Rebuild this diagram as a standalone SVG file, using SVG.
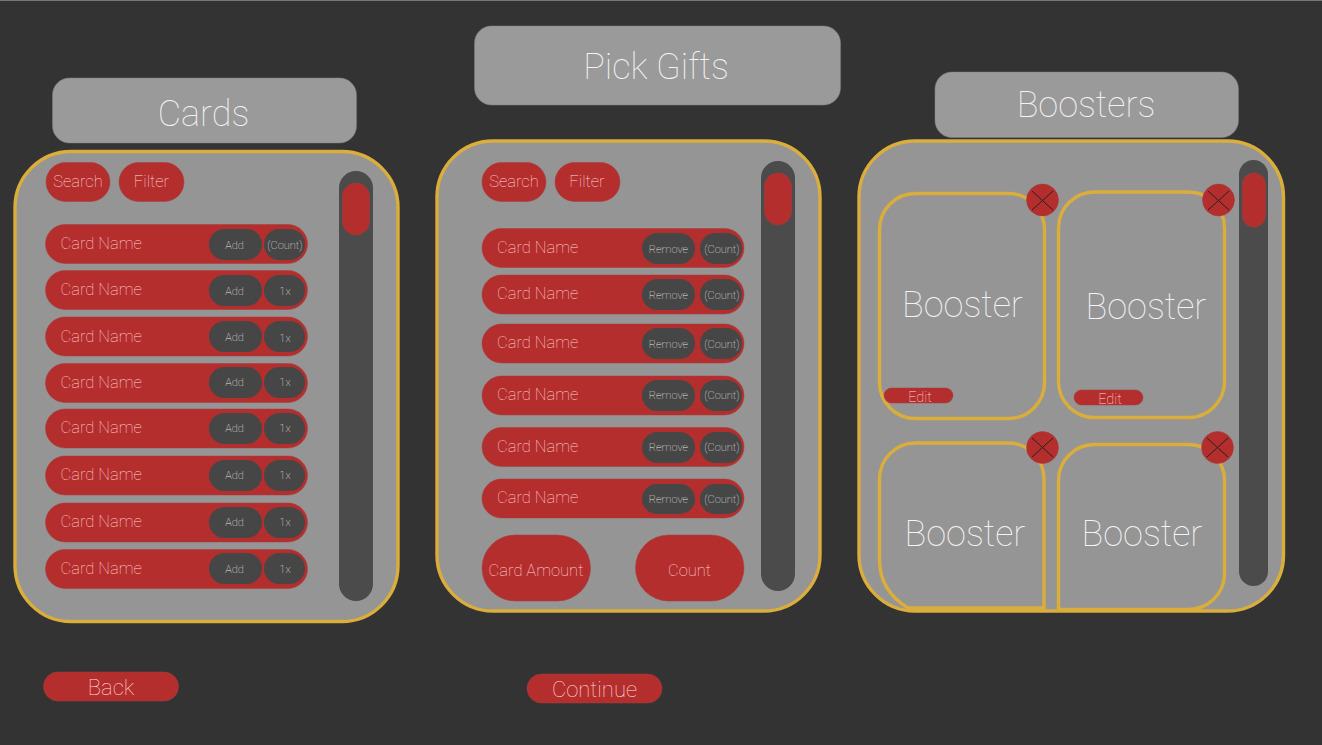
<svg xmlns="http://www.w3.org/2000/svg" width="1322" height="745" viewBox="0 0 1322 745">
<style>
text{font-family:Roboto,"Liberation Sans",sans-serif;text-anchor:middle}
.title{fill:#f4f4f4;font-weight:100;font-size:36px}
.boost{fill:#f4f4f4;font-weight:100;font-size:36px}
.panel{fill:#959595;stroke:#dbad3b;stroke-width:3.4}
.slot{fill:none;stroke:#dbad3b;stroke-width:3.4}
.head{fill:#9a9a9a;stroke:#808080;stroke-width:.5}
.red{fill:#b42e2e;stroke:#a63c3c;stroke-width:.5}
.dark{fill:#464646}
.track{fill:#4b4b4b}
.name{fill:#ffd0d0;font-weight:100;font-size:16.5px;text-anchor:start}
.btn{fill:#ffd8d8;font-weight:100;font-size:16.5px}
.small{fill:#e6e6e6;font-weight:100;font-size:11px}
.x{stroke:#222;stroke-width:1}
</style>
<rect width="1322" height="745" fill="#333"/>
<rect width="1322" height="1" fill="#777"/>

<g id="cards-title"><rect class="head" x="52.500" y="78" width="304" height="65" rx="17"/><text class="title" x="203.500" y="126">Cards</text></g>
<g id="cards-panel"><rect class="panel" x="15" y="151.500" width="383" height="470" rx="56"/>
<rect class="track" x="339" y="171" width="34" height="430" rx="17"/><rect class="red" x="342.500" y="183" width="27" height="52" rx="13.500" stroke="none"/></g>
<g id="cards-search"><rect class="red" x="46" y="162.500" width="64" height="39" rx="19.500"/><text class="btn" x="78" y="187">Search</text></g>
<g id="cards-filter"><rect class="red" x="119" y="162.500" width="65" height="39" rx="19.500"/><text class="btn" x="151.500" y="187">Filter</text></g>
<g id="cards-row-1"><rect class="red" x="45.500" y="224.500" width="262" height="39" rx="19.500"/><text class="name" x="60.500" y="249">Card Name</text><rect class="dark" x="209" y="229" width="53" height="31" rx="15.500"/><text class="small" x="234.500" y="249">Add</text><rect class="dark" x="264" y="229" width="41" height="31" rx="15.500"/><text class="small" x="285" y="249">(Count)</text></g>
<g id="cards-row-2"><rect class="red" x="45.500" y="270.500" width="262" height="39" rx="19.500"/><text class="name" x="60.500" y="295">Card Name</text><rect class="dark" x="209" y="275" width="53" height="31" rx="15.500"/><text class="small" x="234.500" y="295">Add</text><rect class="dark" x="264" y="275" width="41" height="31" rx="15.500"/><text class="small" x="285" y="295">1x</text></g>
<g id="cards-row-3"><rect class="red" x="45.500" y="317" width="262" height="39" rx="19.500"/><text class="name" x="60.500" y="342">Card Name</text><rect class="dark" x="209" y="321" width="53" height="31" rx="15.500"/><text class="small" x="234.500" y="341">Add</text><rect class="dark" x="264" y="321" width="41" height="31" rx="15.500"/><text class="small" x="285" y="342">1x</text></g>
<g id="cards-row-4"><rect class="red" x="45.500" y="363.500" width="262" height="39" rx="19.500"/><text class="name" x="60.500" y="388">Card Name</text><rect class="dark" x="209" y="367" width="53" height="31" rx="15.500"/><text class="small" x="234.500" y="386">Add</text><rect class="dark" x="264" y="367" width="41" height="31" rx="15.500"/><text class="small" x="285" y="386">1x</text></g>
<g id="cards-row-5"><rect class="red" x="45.500" y="409" width="262" height="39" rx="19.500"/><text class="name" x="60.500" y="433">Card Name</text><rect class="dark" x="209" y="413" width="53" height="31" rx="15.500"/><text class="small" x="234.500" y="432">Add</text><rect class="dark" x="264" y="413" width="41" height="31" rx="15.500"/><text class="small" x="285" y="432">1x</text></g>
<g id="cards-row-6"><rect class="red" x="45.500" y="456" width="262" height="39" rx="19.500"/><text class="name" x="60.500" y="480">Card Name</text><rect class="dark" x="209" y="460" width="53" height="31" rx="15.500"/><text class="small" x="234.500" y="479">Add</text><rect class="dark" x="264" y="460" width="41" height="31" rx="15.500"/><text class="small" x="285" y="479">1x</text></g>
<g id="cards-row-7"><rect class="red" x="45.500" y="503" width="262" height="39" rx="19.500"/><text class="name" x="60.500" y="527">Card Name</text><rect class="dark" x="209" y="507" width="53" height="31" rx="15.500"/><text class="small" x="234.500" y="526">Add</text><rect class="dark" x="264" y="507" width="41" height="31" rx="15.500"/><text class="small" x="285" y="526">1x</text></g>
<g id="cards-row-8"><rect class="red" x="45.500" y="549.500" width="262" height="39" rx="19.500"/><text class="name" x="60.500" y="574">Card Name</text><rect class="dark" x="209" y="553" width="53" height="31" rx="15.500"/><text class="small" x="234.500" y="573">Add</text><rect class="dark" x="264" y="553" width="41" height="31" rx="15.500"/><text class="small" x="285" y="573">1x</text></g>
<g id="back"><rect class="red" x="43.500" y="672" width="135" height="29" rx="14.500"/><text class="btn" x="111" y="695" style="font-size:22px">Back</text></g>

<g id="gifts-title"><rect class="head" x="474.500" y="26" width="366" height="79" rx="17"/><text class="title" x="656" y="79">Pick Gifts</text></g>
<g id="gifts-panel"><rect class="panel" x="437" y="141" width="383" height="470" rx="56"/>
<rect class="track" x="761" y="161" width="34" height="430" rx="17"/><rect class="red" x="764.500" y="173" width="27" height="52" rx="13.500" stroke="none"/></g>
<g id="gifts-search"><rect class="red" x="482" y="162.500" width="64" height="39" rx="19.500"/><text class="btn" x="514" y="187">Search</text></g>
<g id="gifts-filter"><rect class="red" x="555" y="162.500" width="65" height="39" rx="19.500"/><text class="btn" x="587" y="187">Filter</text></g>
<g id="gifts-row-1"><rect class="red" x="482" y="228.500" width="262" height="39" rx="19.500"/><text class="name" x="497" y="253">Card Name</text><rect class="dark" x="642" y="233" width="53" height="31" rx="15.500"/><text class="small" x="668.500" y="253">Remove</text><rect class="dark" x="700" y="233" width="42" height="31" rx="15.500"/><text class="small" x="722" y="253">(Count)</text></g>
<g id="gifts-row-2"><rect class="red" x="482" y="275" width="262" height="39" rx="19.500"/><text class="name" x="497" y="299">Card Name</text><rect class="dark" x="642" y="279" width="53" height="31" rx="15.500"/><text class="small" x="668.500" y="299">Remove</text><rect class="dark" x="700" y="279" width="42" height="31" rx="15.500"/><text class="small" x="722" y="299">(Count)</text></g>
<g id="gifts-row-3"><rect class="red" x="482" y="324" width="262" height="39" rx="19.500"/><text class="name" x="497" y="348">Card Name</text><rect class="dark" x="642" y="328" width="53" height="31" rx="15.500"/><text class="small" x="668.500" y="348">Remove</text><rect class="dark" x="700" y="328" width="42" height="31" rx="15.500"/><text class="small" x="722" y="348">(Count)</text></g>
<g id="gifts-row-4"><rect class="red" x="482" y="376" width="262" height="39" rx="19.500"/><text class="name" x="497" y="400">Card Name</text><rect class="dark" x="642" y="380" width="53" height="31" rx="15.500"/><text class="small" x="668.500" y="399">Remove</text><rect class="dark" x="700" y="380" width="42" height="31" rx="15.500"/><text class="small" x="722" y="399">(Count)</text></g>
<g id="gifts-row-5"><rect class="red" x="482" y="427.500" width="262" height="39" rx="19.500"/><text class="name" x="497" y="451.500">Card Name</text><rect class="dark" x="642" y="432" width="53" height="31" rx="15.500"/><text class="small" x="668.500" y="451">Remove</text><rect class="dark" x="700" y="432" width="42" height="31" rx="15.500"/><text class="small" x="722" y="451">(Count)</text></g>
<g id="gifts-row-6"><rect class="red" x="482" y="479" width="262" height="39" rx="19.500"/><text class="name" x="497" y="503">Card Name</text><rect class="dark" x="642" y="484" width="53" height="30" rx="15"/><text class="small" x="668.500" y="503">Remove</text><rect class="dark" x="700" y="484" width="42" height="30" rx="15"/><text class="small" x="722" y="503">(Count)</text></g>
<g id="card-amount"><rect class="red" x="482" y="535" width="108.500" height="66" rx="33"/><text class="btn" x="536" y="575.500">Card Amount</text></g>
<g id="count"><rect class="red" x="635.500" y="535" width="108.500" height="66" rx="33"/><text class="btn" x="689.500" y="575.500">Count</text></g>
<g id="continue"><rect class="red" x="527" y="674" width="135" height="29" rx="14.500"/><text class="btn" x="594.500" y="697" style="font-size:22px">Continue</text></g>

<g id="boosters-title"><rect class="head" x="935" y="72" width="303.500" height="65.500" rx="17"/><text class="title" x="1086" y="117">Boosters</text></g>
<g id="boosters-panel"><rect class="panel" x="859" y="141" width="424.500" height="470" rx="56"/>
<rect class="track" x="1239" y="160" width="29" height="426" rx="14.500"/><rect class="red" x="1242.500" y="173" width="23" height="54" rx="11.500" stroke="none"/></g>
<g id="booster-1"><rect class="slot" x="879.500" y="193.500" width="165" height="225" rx="36"/><text class="boost" x="962.500" y="317">Booster</text><rect class="red" x="884" y="388" width="69" height="15" rx="7.500" stroke="none"/><text class="btn" x="920" y="402" style="font-size:14.500px">Edit</text><circle class="red" cx="1042.500" cy="200" r="16" stroke="none"/><path class="x" d="M1032 191L1053 210M1053 191L1032 210"/></g>
<g id="booster-2"><rect class="slot" x="1058.500" y="192" width="166" height="225.500" rx="36"/><text class="boost" x="1146" y="319">Booster</text><rect class="red" x="1074" y="390" width="69" height="15" rx="7.500" stroke="none"/><text class="btn" x="1110" y="404" style="font-size:14.500px">Edit</text><circle class="red" cx="1218.500" cy="200" r="16" stroke="none"/><path class="x" d="M1208 191L1229 210M1229 191L1208 210"/></g>
<g id="booster-3"><path class="slot" d="M1044 608V479A36 36 0 0 0 1008 443H916A36 36 0 0 0 879.500 479V560C879.500 585 895 600 908 608Z"/><text class="boost" x="965" y="546">Booster</text><circle class="red" cx="1042.500" cy="447.500" r="16" stroke="none"/><path class="x" d="M1032 438L1053 457M1053 438L1032 457"/></g>
<g id="booster-4"><path class="slot" d="M1058.500 609.500V481A36 36 0 0 1 1094.500 444.500H1188A36 36 0 0 1 1224.500 481V574A36 36 0 0 1 1188 609.500Z"/><text class="boost" x="1142" y="546">Booster</text><circle class="red" cx="1217.500" cy="447.500" r="16" stroke="none"/><path class="x" d="M1207 438L1228 457M1228 438L1207 457"/></g>
</svg>
